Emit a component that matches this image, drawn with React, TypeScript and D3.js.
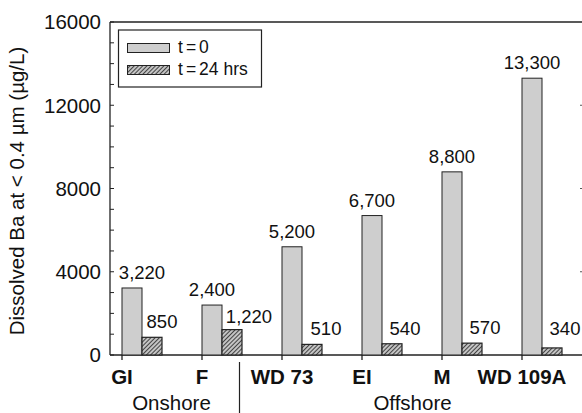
import React from "react";
import * as d3 from "d3";

// Dissolved Ba (<0.4 µm) at t = 0 and after 24 hours, by site
const sites = ["GI", "F", "WD 73", "EI", "M", "WD 109A"];
const baT0 = [3220, 2400, 5200, 6700, 8800, 13300];
const baT24 = [850, 1220, 510, 540, 570, 340];
const yTicks = [0, 4000, 8000, 12000, 16000];
const yMinorTicks = d3.range(0, 16001, 1000);
const seriesNames = ["t=0", "t=24 hrs"];

// label nudges (px) so value labels clear neighbouring marks
const t0LabelDx = [10, 0, 0, 0, 0, 0];
const t24LabelDx = [10, 17, 14, 13, 13, 13];
const t24LabelDy = [0, 2, 0, 0, 0, -4];

const W = 582;
const H = 413;
const FONT = "'Liberation Sans', Arial, Helvetica, sans-serif";

const fmt = d3.format(",");

export default function App() {
  const left = 110;
  const top = 22;
  const bottom = 355;
  const barW = 20;

  const y = d3.scaleLinear().domain([0, 16000]).range([bottom, top]);
  const x = d3.scalePoint<string>().domain(sites).range([122, 522]);

  const grayFill = "#cecece";
  const stroke = "#222";

  return (
    <svg
      width={W}
      height={H}
      viewBox={`0 0 ${W} ${H}`}
      style={{ position: "absolute", left: 0, top: 0, background: "#fff" }}
      fontFamily={FONT}
    >
      <defs>
        <pattern id="hatch" width="3" height="3" patternUnits="userSpaceOnUse" patternTransform="rotate(45)">
          <rect width="3" height="3" fill="#c4c4c4" />
          <line x1="0" y1="0" x2="0" y2="3" stroke="#222" strokeWidth="1.6" />
        </pattern>
      </defs>

      {/* frame */}
      <line x1={left} x2={W} y1={top} y2={top} stroke={stroke} strokeWidth={1.3} />
      <line x1={left} x2={left} y1={top} y2={bottom} stroke={stroke} strokeWidth={1.3} />
      <line x1={left} x2={W} y1={bottom} y2={bottom} stroke={stroke} strokeWidth={1.6} />

      {/* y ticks (inward) */}
      {yMinorTicks.map((t) => (
        <line key={"m" + t} x1={left} x2={left + 4} y1={y(t)} y2={y(t)} stroke={stroke} strokeWidth={1} />
      ))}
      {yTicks.slice(1, -1).map((t) => (
        <line key={"r" + t} x1={W - 2} x2={W} y1={y(t)} y2={y(t)} stroke="#555" strokeWidth={1} />
      ))}
      {yTicks.map((t) => (
        <text key={"l" + t} x={left - 9} y={y(t)} dy="0.36em" textAnchor="end" fontSize={20.5} fill="#111">
          {t}
        </text>
      ))}

      {/* y axis title */}
      <text
        transform={`translate(24, 191) rotate(-90)`}
        textAnchor="middle"
        fontSize={20.5}
        fill="#111"
      >
        Dissolved Ba at &lt; 0.4 µm (µg/L)
      </text>

      {/* bars */}
      {sites.map((s, i) => (
        <g key={s}>
          <rect
            x={x(s)}
            y={y(baT0[i])}
            width={barW}
            height={bottom - y(baT0[i])}
            fill={grayFill}
            stroke={stroke}
            strokeWidth={1}
          />
          <rect
            x={(x(s) as number) + barW}
            y={y(baT24[i])}
            width={barW}
            height={bottom - y(baT24[i])}
            fill="url(#hatch)"
            stroke={stroke}
            strokeWidth={1.2}
          />
          <text
            x={(x(s) as number) + barW / 2 + t0LabelDx[i]}
            y={y(baT0[i]) - 9}
            textAnchor="middle"
            fontSize={18.5}
            fill="#111"
          >
            {fmt(baT0[i])}
          </text>
          <text
            x={(x(s) as number) + barW * 1.5 + t24LabelDx[i]}
            y={y(baT24[i]) - 9 + t24LabelDy[i]}
            textAnchor="middle"
            fontSize={18.5}
            fill="#111"
          >
            {fmt(baT24[i])}
          </text>
          {/* x tick */}
          <line x1={x(s)} x2={x(s)} y1={bottom} y2={bottom + 5} stroke={stroke} strokeWidth={1.3} />
          <text x={x(s)} y={384} textAnchor="middle" fontSize={20.5} fontWeight="bold" fill="#111">
            {s}
          </text>
        </g>
      ))}

      {/* group labels */}
      <line x1={239.5} x2={239.5} y1={362} y2={H} stroke={stroke} strokeWidth={1.2} />
      <text x={171.5} y={410} textAnchor="middle" fontSize={20.5} fill="#111">
        Onshore
      </text>
      <text x={412.5} y={410} textAnchor="middle" fontSize={20.5} fill="#111">
        Offshore
      </text>

      {/* legend */}
      <rect x={118.5} y={30} width={143} height={57} fill="#fff" stroke={stroke} strokeWidth={1.2} />
      <rect x={127.5} y={43.5} width={42} height={9} fill={grayFill} stroke={stroke} strokeWidth={1} />
      <rect x={127.5} y={65.5} width={42} height={9} fill="url(#hatch)" stroke={stroke} strokeWidth={1} />
      {seriesNames.map((n, i) => {
        const [a, b] = n.split("=");
        return (
          <text key={n} x={178} y={53 + i * 22} fontSize={17.5} fill="#111">
            <tspan>{a}</tspan>
            <tspan dx={3}>=</tspan>
            <tspan dx={3}>{b}</tspan>
          </text>
        );
      })}
    </svg>
  );
}
